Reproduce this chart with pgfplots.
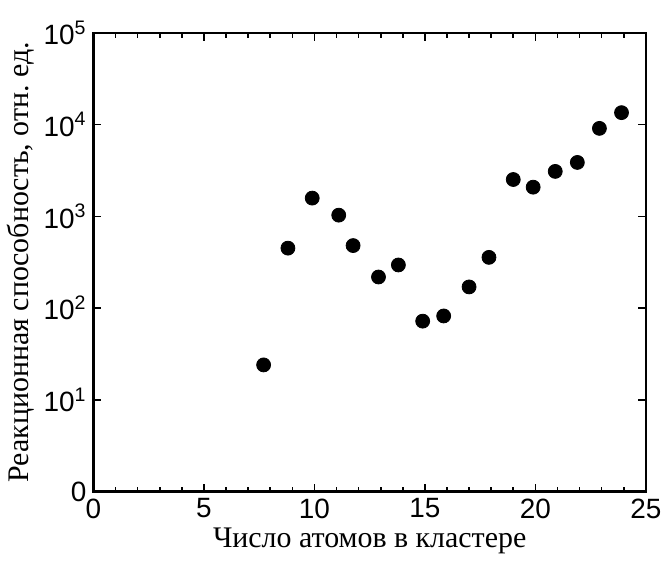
\documentclass[border=0pt]{standalone}
\usepackage{fontspec}
\setmainfont{Liberation Serif}
\setsansfont{Liberation Sans}
\usepackage{pgfplots}
\pgfplotsset{compat=1.18}
\begin{document}
\begin{tikzpicture}
\begin{semilogyaxis}[
    scale only axis,
    width=277pt, height=230pt,
    xmin=0, xmax=25, ymin=1, ymax=1e5,
    xtick={0,5,...,25},
    minor x tick num=4,
    ytick={1,10,100,1000,10000,100000},
    yticklabels={0,10\textsuperscript{1},10\textsuperscript{2},10\textsuperscript{3},10\textsuperscript{4},10\textsuperscript{5}},
    yminorticks=false,
    tick align=inside,
    major tick length=4pt,
    minor tick length=2.5pt,
    axis line style={line width=1.2pt},
    every tick/.style={black, line width=0.8pt},
    ticklabel style={font=\sffamily\fontsize{14}{14}\selectfont},
    /pgf/number format/assume math mode=true,
    xlabel={Число атомов в кластере},
    ylabel={Реакционная способность, отн.\ ед.},
    label style={font=\fontsize{15}{15}\selectfont},
    xlabel style={yshift=2pt},
    ylabel style={yshift=-2pt},
]
\addplot[only marks, mark=*, mark size=3.5pt, black] coordinates {
    (7.7,24)
    (8.8,450)
    (9.9,1580)
    (11.1,1030)
    (11.75,480)
    (12.9,218)
    (13.8,295)
    (14.9,72)
    (15.85,82)
    (17.0,170)
    (17.9,357)
    (19.0,2520)
    (19.9,2080)
    (20.9,3090)
    (21.9,3870)
    (22.9,9100)
    (23.9,13500)
};
\end{semilogyaxis}
\path ([yshift=16.5pt]current axis.north west) rectangle ([yshift=-36pt]current axis.south west);
\end{tikzpicture}
\end{document}
